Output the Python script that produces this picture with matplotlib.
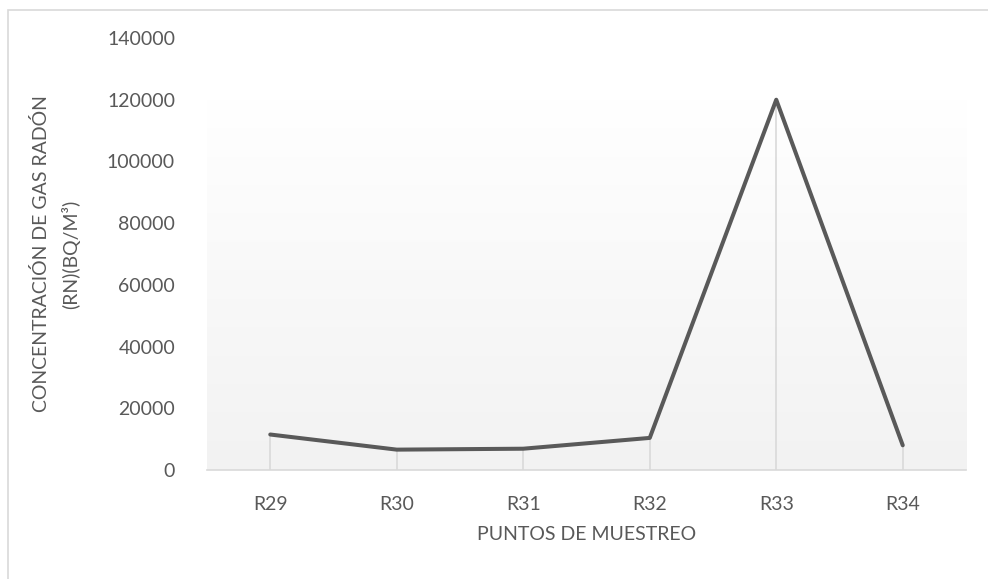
import numpy as np
import matplotlib as mpl
import matplotlib.pyplot as plt
from matplotlib.colors import LinearSegmentedColormap
from matplotlib.patches import Rectangle

puntos = ['R29', 'R30', 'R31', 'R32', 'R33', 'R34']
radon = [11500, 6600, 6900, 10400, 120000, 8000]
y_ticks = [0, 20000, 40000, 60000, 80000, 100000, 120000, 140000]

txt_color = '#595959'
mpl.rc('font', family=['Lato', 'DejaVu Sans'], size=14)

fig = plt.figure(figsize=(9.88, 5.79), dpi=100)
ax = fig.add_axes([207 / 988, 1 - 470 / 579, (966 - 207) / 988, (470 - 38) / 579])

# chart border
fig.patches.append(Rectangle((8 / 988, -0.1), 1.2, 1.1 - 10 / 579, transform=fig.transFigure,
                             fill=False, edgecolor='#d9d9d9', linewidth=1.2))

x = np.arange(len(puntos))
ax.set_xlim(-0.5, len(puntos) - 0.5)

# gradient fill of the plot area
grad = np.linspace(1, 0, 256).reshape(-1, 1)
cmap = LinearSegmentedColormap.from_list('g', ['#f2f2f2', '#ffffff'])
ax.imshow(grad, cmap=cmap, aspect='auto', extent=(-0.5, len(puntos) - 0.5, 0, 120000),
          origin='upper', zorder=0, vmin=0, vmax=1)
ax.set_ylim(0, 140000)

# drop lines
ax.vlines(x, 0, radon, color='#d9d9d9', linewidth=1.2, zorder=1)
ax.plot(x, radon, color='#595959', linewidth=2.9, solid_capstyle='round',
        solid_joinstyle='round', zorder=3)

ax.set_xticks(x)
ax.set_xticklabels(puntos)
ax.set_yticks(y_ticks)
ax.set_yticklabels([str(v) for v in y_ticks])
ax.tick_params(axis='both', length=0, colors=txt_color)
ax.tick_params(axis='x', pad=19)
ax.tick_params(axis='y', pad=23)

for s in ['top', 'right', 'left']:
    ax.spines[s].set_visible(False)
ax.spines['bottom'].set_color('#d9d9d9')
ax.spines['bottom'].set_linewidth(1.2)

ax.set_xlabel('PUNTOS DE MUESTREO', color=txt_color, labelpad=9)
ax.set_ylabel('CONCENTRACIÓN DE GAS RADÓN\n(RN)(BQ/M³)', color=txt_color, labelpad=19,
              linespacing=1.7)

fig.savefig('out.png', dpi=100)
